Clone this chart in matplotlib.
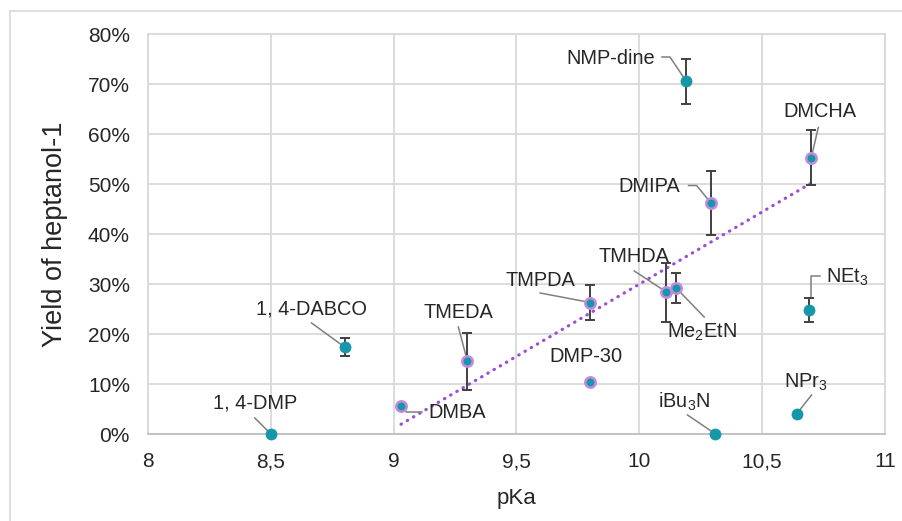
import numpy as np
import matplotlib
matplotlib.use("Agg")
import matplotlib.pyplot as plt
import matplotlib.transforms as mtransforms
from matplotlib.lines import Line2D
from matplotlib.ticker import PercentFormatter

plt.rcParams["font.family"] = ["Liberation Sans", "DejaVu Sans"]
plt.rcParams["mathtext.fontset"] = "custom"
plt.rcParams["mathtext.rm"] = "Liberation Sans"
plt.rcParams["mathtext.it"] = "Liberation Sans:italic"
plt.rcParams["mathtext.bf"] = "Liberation Sans:bold"

# ---- data -------------------------------------------------------------
amines = ["1, 4-DMP", "1, 4-DABCO", "DMBA", "TMEDA", "TMPDA", "DMP-30",
          "TMHDA", "Me$_2$EtN", "iBu$_3$N", "NMP-dine", "DMCHA", "DMIPA",
          "NEt$_3$", "NPr$_3$"]
pka = [8.50, 8.80, 9.03, 9.30, 9.80, 9.80, 10.11, 10.15, 10.31, 10.19,
       10.70, 10.29, 10.69, 10.64]
yield_pct = [0.0, 17.4, 5.6, 14.6, 26.3, 10.4, 28.4, 29.2, 0.0, 70.6,
             55.3, 46.3, 24.8, 4.0]
yield_err = [0.0, 1.8, 0.0, 5.7, 3.5, 0.0, 5.9, 3.0, 0.0, 4.5, 5.5, 6.4,
             2.4, 0.0]
# amines included in the linear trend
in_trend = [False, False, True, True, True, True, True, True, False, False,
            True, True, False, False]

x_ticks = [8, 8.5, 9, 9.5, 10, 10.5, 11]
x_tick_labels = ["8", "8,5", "9", "9,5", "10", "10,5", "11"]
y_ticks = [0, 10, 20, 30, 40, 50, 60, 70, 80]

# ---- label layout (pixel offsets from each point) ----------------------
label_offsets = {
    "1, 4-DMP": ((-16, 31), "center"),
    "1, 4-DABCO": ((-33, 38), "center"),
    "DMBA": ((56, -7), "center"),
    "TMEDA": ((-9, 48), "center"),
    "TMPDA": ((-50, 22), "center"),
    "DMP-30": ((-4, 25), "center"),
    "TMHDA": ((-32, 35), "center"),
    "Me$_2$EtN": ((-9, -44), "left"),
    "iBu$_3$N": ((-31, 32), "center"),
    "NMP-dine": ((-75, 23), "center"),
    "DMCHA": ((9, 46), "center"),
    "DMIPA": ((-61, 16), "center"),
    "NEt$_3$": ((17, 33), "left"),
    "NPr$_3$": ((9, 32), "center"),
}
leader_paths = {
    "1, 4-DMP": [(-16, 16), (0, 0)],
    "1, 4-DABCO": [(-33, 24), (0, 0)],
    "DMBA": [(21, -6), (5, -6), (0, 0)],
    "TMEDA": [(-9, 34), (0, 0)],
    "TMPDA": [(-50, 9.5), (0, 0)],
    "TMHDA": [(-32, 21), (0, 0)],
    "Me$_2$EtN": [(28, -29), (0, 0)],
    "iBu$_3$N": [(-28, 19), (0, 0)],
    "NMP-dine": [(-24, 24), (-16, 24), (0, 0)],
    "DMCHA": [(7, 30), (0, 0)],
    "DMIPA": [(-22, 17), (-14, 17), (0, 0)],
    "NEt$_3$": [(11, 34), (2, 34), (2, 13)],
    "NPr$_3$": [(15, 19), (0, 0)],
}

TEAL = "#1497a8"
PURPLE_RING = "#c58ae0"
TREND = "#9b50d4"
GRID = "#d9d9d9"
TEXT = "#262626"

fig = plt.figure(figsize=(9.03, 5.21), dpi=100)
ax = fig.add_axes([148 / 903, 1 - 434 / 521, (885 - 148) / 903, 400 / 521])

# outer chart frame
fig.add_artist(Line2D([10 / 903, 10 / 903], [0, 1 - 11 / 521],
                      transform=fig.transFigure, color=GRID, lw=1.2))
fig.add_artist(Line2D([10 / 903, 1], [1 - 11 / 521, 1 - 11 / 521],
                      transform=fig.transFigure, color=GRID, lw=1.2))

ax.set_xlim(8, 11)
ax.set_ylim(0, 80)
ax.set_xticks(x_ticks)
ax.set_xticklabels(x_tick_labels)
ax.set_yticks(y_ticks)
ax.yaxis.set_major_formatter(PercentFormatter(xmax=100, decimals=0))
ax.tick_params(length=0, labelsize=15, colors=TEXT)
ax.tick_params(axis="x", pad=13)
ax.tick_params(axis="y", pad=13)
ax.grid(True, color=GRID, lw=1.3)
ax.set_axisbelow(True)
for side in ["top", "right", "left"]:
    ax.spines[side].set_color(GRID)
    ax.spines[side].set_linewidth(1.3)
ax.spines["bottom"].set_color("#bfbfbf")
ax.spines["bottom"].set_linewidth(1.3)

ax.set_xlabel("pKa", fontsize=16, color=TEXT, labelpad=12)
ax.set_ylabel("Yield of heptanol-1", fontsize=19.5, color=TEXT, labelpad=14)

pka_a = np.array(pka)
y_a = np.array(yield_pct)
e_a = np.array(yield_err)
mask = np.array(in_trend)

# linear trend over the selected amines, drawn as round dots
slope, intercept = np.polyfit(pka_a[mask], y_a[mask], 1)
xt = np.array([pka_a[mask].min(), pka_a[mask].max()])
ax.plot(xt, slope * xt + intercept, color=TREND, lw=2.3,
        ls=(0, (0.15, 2.1)), dash_capstyle="round", zorder=2)

# error bars
has_err = e_a > 0
ax.errorbar(pka_a[has_err], y_a[has_err], yerr=e_a[has_err], fmt="none",
            ecolor="#404040", elinewidth=1.4, capsize=3.5, capthick=1.4,
            zorder=3)

# leader lines
for name, x, y in zip(amines, pka, yield_pct):
    if name in leader_paths:
        tr = mtransforms.ScaledTranslation(x, y, ax.transData)
        px, py = zip(*leader_paths[name])
        ax.plot(px, py, transform=tr, color="#7f7f7f", lw=1.1,
                zorder=2.5, clip_on=False)

# markers
ax.plot(pka_a[~mask], y_a[~mask], "o", ms=8, mfc=TEAL, mec=TEAL, mew=0.5,
        ls="none", zorder=4, clip_on=False)
ax.plot(pka_a[mask], y_a[mask], "o", ms=7.5, mfc=TEAL, mec=PURPLE_RING,
        mew=1.8, ls="none", zorder=4, clip_on=False)

# data labels
for name, x, y in zip(amines, pka, yield_pct):
    (dx, dy), ha = label_offsets[name]
    ax.annotate(name, xy=(x, y), xytext=(dx, dy), textcoords="offset pixels",
                ha=ha, va="center", fontsize=14.4, color=TEXT, zorder=5,
                annotation_clip=False)

fig.savefig("out.png", dpi=100, facecolor="white")
